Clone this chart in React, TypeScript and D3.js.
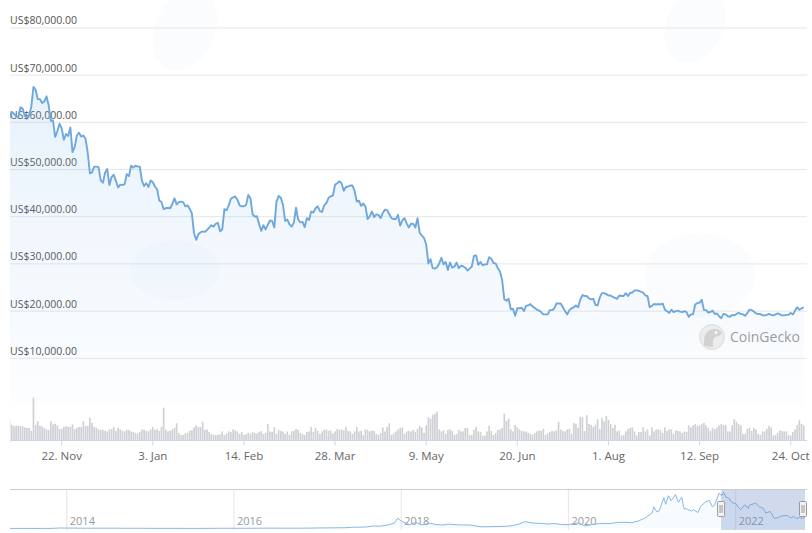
import * as d3 from "d3";

// daily price points (CoinGecko timestamps), starting 29 Oct 2021
const startDay = "2021-10-29";
const endStamp = "2022-10-30 14:00";

const prices = [
  60900, 62200, 61800, 61300, 61000, 63200, 62900, 61400, 61000, 61500,
  63300, 67500, 66900, 64900, 64900, 64100, 64400, 65500, 63600, 60300,
  60400, 56900, 58100, 59700, 58700, 56300, 57500, 57100, 58900, 53700,
  54800, 57200, 57800, 57000, 57200, 56500, 53600, 49200, 49400, 50600,
  50600, 50500, 47700, 47200, 49300, 50100, 46700, 48400, 48900, 47600,
  46200, 46800, 46700, 46900, 49000, 48600, 50800, 50400, 50800, 50600,
  50600, 47600, 46500, 47100, 46300, 47700, 47300, 46400, 45800, 43400,
  43100, 41600, 41800, 41900, 41800, 42700, 43900, 42600, 43100, 43200,
  43100, 42200, 42400, 41700, 40700, 36500, 35100, 36300, 36700, 36900,
  36800, 37200, 37700, 38200, 37900, 38500, 38700, 36900, 37300, 41600,
  41400, 42400, 43800, 44100, 44300, 43600, 42400, 42200, 42200, 42500,
  44600, 43900, 40500, 40000, 40100, 38400, 37000, 38200, 37300, 38300,
  39200, 39100, 37700, 43200, 44400, 44000, 42500, 39100, 39400, 38400,
  37900, 38700, 41900, 39400, 38800, 38900, 37800, 39700, 39300, 41100,
  40900, 41800, 42200, 41200, 41000, 42400, 42900, 44000, 44300, 44500,
  46800, 47100, 47500, 47100, 45500, 46300, 46400, 46600, 46600, 45500,
  43200, 43400, 42300, 42800, 42200, 39500, 40100, 41100, 39900, 40500,
  40400, 39700, 40800, 41500, 41400, 40500, 39700, 39500, 39500, 40400,
  38100, 39200, 39700, 38600, 37700, 38500, 38500, 37700, 39700, 36600,
  36000, 35500, 34100, 30100, 31000, 29100, 29000, 29300, 30100, 31300,
  29900, 30400, 28700, 30300, 29200, 29400, 30300, 29100, 29600, 29500,
  29200, 28600, 29000, 29400, 31700, 31800, 29800, 30400, 29700, 29900,
  29900, 31400, 31100, 30200, 30100, 29100, 28400, 26600, 22500, 22200,
  22600, 20400, 20500, 19000, 20600, 20600, 20700, 20000, 21100, 21200,
  21500, 21000, 20700, 20300, 20100, 19800, 19300, 19300, 19300, 20200,
  20200, 20500, 21600, 21600, 21600, 20800, 20000, 19300, 20200, 20600,
  20800, 21200, 20800, 22400, 23400, 23200, 23200, 22700, 22500, 22600,
  21300, 21200, 22900, 23800, 23800, 23600, 23300, 23300, 23000, 22800,
  22600, 23300, 23200, 23200, 23800, 23200, 23900, 23900, 24400, 24400,
  24300, 24100, 23900, 23300, 23200, 20800, 21100, 21500, 21400, 21500,
  21400, 21600, 20300, 20000, 19600, 20300, 19800, 20000, 20100, 19900,
  19800, 20000, 19800, 18800, 19300, 19300, 21400, 21700, 21800, 22400,
  20200, 20200, 19700, 19800, 20100, 19400, 19500, 18900, 18500, 19400,
  19300, 18900, 18800, 19200, 19100, 19400, 19600, 19400, 19300, 19000,
  19600, 20300, 20200, 19900, 19500, 19400, 19400, 19100, 19100, 19200,
  19400, 19200, 19100, 19300, 19500, 19300, 19100, 19100, 19200, 19200,
  19600, 19300, 20100, 20800, 20300, 20600, 20800,
];

// daily volume, US$ billions
const volumes = [
  40, 31, 28, 29, 29, 29, 28, 26, 25, 25, 19, 85, 31, 38, 29, 28, 25, 22, 21, 38,
  32, 33, 30, 23, 23, 27, 29, 27, 27, 32, 23, 25, 27, 27, 38, 29, 29, 45, 35, 27,
  25, 22, 21, 21, 19, 18, 22, 23, 27, 19, 25, 22, 19, 18, 21, 21, 18, 17, 15, 14,
  17, 22, 21, 19, 18, 22, 27, 21, 23, 19, 27, 65, 21, 18, 19, 22, 25, 34, 15, 11,
  11, 14, 15, 19, 21, 26, 30, 27, 27, 37, 21, 22,
  17, 13, 11, 11, 11, 12, 18, 11, 14, 18, 17, 22, 20, 18, 13, 17, 11, 13, 15, 13,
  17, 15, 14, 17, 19, 13, 15, 33, 18, 17, 26, 13, 21, 19, 18, 13, 18, 11, 18, 19,
  23, 21, 15, 13, 11, 17, 18, 27, 17, 25, 19, 13, 18, 21, 22, 19, 20, 14, 18, 23,
  21, 22, 20, 27, 19, 18, 13, 18, 27, 18, 19, 11, 22, 21, 18, 20, 19, 13, 11, 15,
  26, 18, 27, 34, 11, 14, 18, 22, 25, 26,
  13, 18, 19, 18, 21, 17, 23, 29, 26, 15, 30, 46, 43, 51, 53, 57, 22, 18, 20, 13,
  21, 22, 19, 11, 13, 21, 18, 18, 25, 25, 11, 11, 21, 27, 18, 17, 9, 10, 18, 29,
  19, 11, 15, 21, 22, 25, 53, 39, 43, 22, 18, 31, 26, 22, 19, 18, 18, 15, 13, 11,
  15, 18, 20, 19, 23, 11, 14, 17, 19, 18, 20, 37, 22, 19, 18, 22, 23, 13, 35, 33,
  25, 47, 46, 19, 50, 33, 31, 27, 31, 42, 23,
  45, 38, 49, 41, 33, 25, 31, 18, 20, 10, 11, 18, 22, 25, 26, 18, 10, 17, 17, 26,
  18, 22, 10, 26, 18, 22, 22, 20, 15, 26, 19, 22, 22, 13, 20, 19, 18, 15, 18, 17,
  30, 26, 30, 33, 29, 30, 33, 35, 30, 25, 19, 25, 22, 26, 30, 33, 30, 31, 18, 18,
  30, 42, 37, 33, 30, 13, 13, 23, 25, 19, 25, 22, 13, 11, 18, 18, 23, 29, 26, 10,
  11, 15, 20, 19, 18, 18, 11, 10, 17, 22, 31, 40, 33, 30,
];

const yTicks = [10000, 20000, 30000, 40000, 50000, 60000, 70000, 80000];
const tickDates = [
  "2021-11-22", "2022-01-03", "2022-02-14", "2022-03-28", "2022-05-09",
  "2022-06-20", "2022-08-01", "2022-09-12", "2022-10-24",
];

// navigator: whole history, rough readings
const navDates = [
  "2013-04-28", "2013-06-01", "2013-08-01", "2013-10-01", "2013-11-01", "2013-12-01",
  "2014-01-01", "2014-02-01", "2014-03-01", "2014-04-01", "2014-06-01", "2014-08-01",
  "2014-10-01", "2014-12-01", "2015-01-15", "2015-03-01", "2015-06-01", "2015-09-01",
  "2015-11-05", "2016-01-01", "2016-03-01", "2016-06-15", "2016-08-01", "2016-10-01",
  "2016-12-01", "2017-01-01", "2017-03-01", "2017-05-01", "2017-06-01", "2017-07-01",
  "2017-08-01", "2017-09-01", "2017-10-01", "2017-11-01", "2017-12-01", "2017-12-17",
  "2018-01-01", "2018-02-06", "2018-03-05", "2018-04-01", "2018-05-05", "2018-06-01",
  "2018-07-01", "2018-07-25", "2018-09-01", "2018-10-01", "2018-11-01", "2018-12-15",
  "2019-02-01", "2019-04-01", "2019-05-01", "2019-06-01", "2019-06-26", "2019-08-01",
  "2019-09-01", "2019-10-01", "2019-11-01", "2019-12-01", "2020-01-01", "2020-02-12",
  "2020-03-13", "2020-04-01", "2020-05-01", "2020-06-01", "2020-07-01", "2020-08-01",
  "2020-09-01", "2020-10-01", "2020-11-01", "2020-12-01", "2021-01-01", "2021-01-08",
  "2021-01-22", "2021-02-01", "2021-02-21", "2021-03-01", "2021-03-13", "2021-03-25",
  "2021-04-13", "2021-04-25", "2021-05-10", "2021-05-20", "2021-06-01", "2021-06-22",
  "2021-07-01", "2021-07-20", "2021-08-01", "2021-08-22", "2021-09-07", "2021-09-21",
  "2021-10-01", "2021-10-20", "2021-11-01", "2021-11-09", "2021-11-20", "2021-12-01",
  "2021-12-15", "2022-01-01", "2022-01-22", "2022-02-10", "2022-02-24", "2022-03-01",
  "2022-03-29", "2022-04-15", "2022-05-01", "2022-05-12", "2022-06-01", "2022-06-18",
  "2022-07-01", "2022-07-20", "2022-08-14", "2022-08-28", "2022-09-13", "2022-09-21",
  "2022-10-05", "2022-10-20", "2022-10-30",
];
const navPrices = [
  135, 120, 105, 125, 205, 1000,
  750, 820, 550, 470, 630, 590,
  390, 380, 210, 260, 230, 230,
  400, 430, 430, 700, 600, 610,
  750, 1000, 1200, 1450, 2400, 2500,
  2850, 4700, 4300, 6450, 10000, 19300,
  13800, 7000, 11500, 6900, 9800, 7500,
  6400, 8200, 7000, 6600, 6300, 3200,
  3450, 4100, 5300, 8500, 12900, 10100,
  9600, 8300, 9200, 7550, 7200, 10300,
  4900, 6400, 8600, 9450, 9150, 11300,
  11650, 10800, 13800, 19700, 29000, 40500,
  30800, 33100, 57500, 45100, 61200, 51700,
  63500, 49000, 58200, 37000, 36700, 32500,
  35000, 29800, 41500, 49300, 52700, 40700,
  43800, 65900, 61300, 67500, 58000, 57000,
  48500, 46300, 35100, 44300, 37300, 43200,
  47500, 40500, 37700, 29000, 31800, 19000,
  19800, 23400, 24400, 19600, 22400, 18500,
  20300, 19100, 20600,
];
const navYears = [2014, 2016, 2018, 2020, 2022];

const W = 812;
const H = 533;

const parseDay = d3.timeParse("%Y-%m-%d");
const parseStamp = d3.timeParse("%Y-%m-%d %H:%M");
const fmtTick = d3.timeFormat("%-d. %b");
const fmtPrice = (v: number) => "US$" + d3.format(",.2f")(v);

export default function App() {
  const start = parseDay(startDay) as Date;
  const end = parseStamp(endStamp) as Date;
  const days = prices.map((p, i) => ({ date: d3.timeDay.offset(start, i), price: p, vol: volumes[i] ?? 0 }));

  const x = d3.scaleTime().domain([start, end]).range([9.6, 805]);
  const y = d3.scaleLinear().domain([0, 80000]).range([405.5, 27.9]);
  const yVol = d3.scaleLinear().domain([0, 100]).range([440.5, 390]);

  const line = d3.line<any>().x(d => x(d.date)).y(d => y(d.price));
  const area = d3.area<any>().x(d => x(d.date)).y0(y(0)).y1(d => y(d.price));

  const nav = navDates.map((d, i) => ({ date: parseDay(d) as Date, price: navPrices[i] }));
  const xNav = d3.scaleTime().domain([nav[0].date, end]).range([10, 805]);
  const yNav = d3.scaleLinear().domain([0, 70000]).range([528.5, 491]);
  const navLine = d3.line<any>().x(d => xNav(d.date)).y(d => yNav(d.price));
  const navArea = d3.area<any>().x(d => xNav(d.date)).y0(528.5).y1(d => yNav(d.price));

  const barW = (x(d3.timeDay.offset(start, 1)) - x(start)) * 0.78;
  const maskL = xNav(start);
  const maskR = xNav(end);
  const font = "'Segoe UI', 'Open Sans', sans-serif";

  return (
    <svg width={W} height={H} style={{ position: "absolute", left: 0, top: 0, background: "#fff" }} fontFamily={font}>
      <defs>
        <linearGradient id="fillGrad" gradientUnits="userSpaceOnUse" x1="0" y1="85" x2="0" y2="405">
          <stop offset="0" stopColor="#7cb5ec" stopOpacity={0.18} />
          <stop offset="1" stopColor="#7cb5ec" stopOpacity={0.02} />
        </linearGradient>
        <clipPath id="plotClip">
          <rect x={10} y={0} width={796} height={H} />
        </clipPath>
      </defs>

      {/* faint background watermark swirls */}
      <g fill="#fafcfe">
        <ellipse cx={185} cy={30} rx={30} ry={42} transform="rotate(25 185 30)" />
        <ellipse cx={695} cy={25} rx={28} ry={40} transform="rotate(25 695 25)" />
        <ellipse cx={700} cy={275} rx={55} ry={42} />
        <ellipse cx={175} cy={270} rx={45} ry={30} />
      </g>

      {/* grid + y labels */}
      {yTicks.map(t => (
        <g key={t}>
          <line x1={10} x2={807} y1={y(t)} y2={y(t)} stroke="#e6e6e6" />
          <text x={10} y={y(t) - 3.5} fontSize={10.5} fill="#555">{fmtPrice(t)}</text>
        </g>
      ))}

      <g clipPath="url(#plotClip)">
        <path d={area(days) || ""} fill="url(#fillGrad)" />
        <path d={line(days) || ""} fill="none" stroke="#6fa8dc" strokeWidth={1.9} strokeLinejoin="round" />

        {/* volume */}
        {days.map((d, i) => (
          <rect key={i} x={x(d.date) - barW / 2} y={yVol(d.vol)} width={barW} height={yVol(0) - yVol(d.vol)} fill="#cfd1d6" />
        ))}
      </g>

      <line x1={10} x2={807} y1={440.5} y2={440.5} stroke="#ccd6eb" />
      {tickDates.map(s => {
        const d = parseDay(s) as Date;
        return (
          <g key={s}>
            <line x1={x(d)} x2={x(d)} y1={440.5} y2={445.5} stroke="#ccd6eb" />
            <text x={x(d)} y={460} textAnchor="middle" fontSize={11.5} fill="#666">{fmtTick(d)}</text>
          </g>
        );
      })}

      {/* CoinGecko mark */}
      <g>
        <circle cx={712} cy={337} r={12.5} fill="#ececec" stroke="#dcdcdc" />
        <path d="M704,346 Q703,333 710,330 Q718,327 722,333 Q720,336 715,337 Q712,340 713,347 Z" fill="#d2d2d2" />
        <circle cx={716} cy={332.5} r={1.6} fill="#f8f8f8" />
        <text x={730} y={342} fontSize={14} fill="#9d9d9d">CoinGecko</text>
      </g>

      {/* navigator */}
      <g>
        {navYears.map(yr => {
          const xx = xNav(new Date(yr, 0, 1));
          return (
            <g key={yr}>
              <line x1={xx} x2={xx} y1={489} y2={530} stroke="#e6e6e6" />
              <text x={xx + 3} y={525} fontSize={11} fill="#999">{yr}</text>
            </g>
          );
        })}
        <path d={navArea(nav) || ""} fill="#7cb5ec" fillOpacity={0.06} />
        <path d={navLine(nav) || ""} fill="none" stroke="#8ab8e4" strokeWidth={1} />
        <rect x={maskL} y={489} width={maskR - maskL} height={41} fill="rgba(102,133,194,0.3)" />
        <line x1={10} x2={807} y1={489.5} y2={489.5} stroke="#cccccc" />
        {[maskL, maskR - 2].map((hx, i) => (
          <g key={i}>
            <rect x={hx - 3.5} y={501.5} width={7} height={15} rx={1} fill="#f2f2f2" stroke="#999" />
            <line x1={hx - 1} x2={hx - 1} y1={505} y2={513} stroke="#999" />
            <line x1={hx + 1} x2={hx + 1} y1={505} y2={513} stroke="#999" />
          </g>
        ))}
      </g>
    </svg>
  );
}
